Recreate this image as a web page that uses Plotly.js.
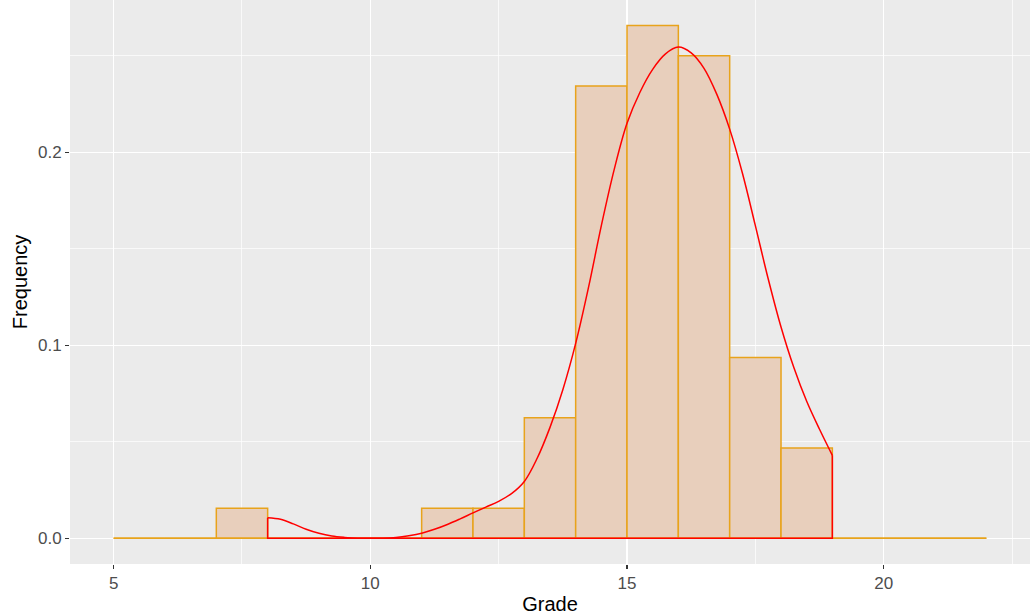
<!DOCTYPE html>
<html>
<head>
<meta charset="utf-8">
<script src="https://cdn.plot.ly/plotly-3.0.1.min.js"></script>
<style>html,body{margin:0;padding:0;background:#fff;}#chart{width:1030px;height:616px;}</style>
</head>
<body>
<div id="chart"></div>
<script>
// Histogram bins (width 1) from 5 to 22
var binStarts = [5,6,7,8,9,10,11,12,13,14,15,16,17,18,19,20,21];
var binWidth = 1;
var binFreq = [0,0,0.015625,0,0,0,0.015625,0.015625,0.0625,0.234375,0.265625,0.25,0.09375,0.046875,0,0,0];

// Density curve
var densX = [8.0,8.25,8.5,8.75,9.0,9.25,9.5,9.75,10.0,10.25,10.5,10.75,11.0,11.25,11.5,11.75,12.0,12.25,12.5,12.75,13.0,13.25,13.5,13.75,14.0,14.25,14.5,14.75,15.0,15.25,15.5,15.75,16.0,16.25,16.5,16.75,17.0,17.25,17.5,17.75,18.0,18.25,18.5,18.75,19.0];
var densY = [0.0107,0.0099,0.0075,0.0047,0.0026,0.0012,0.0005,0.0001,0.0000,0.0001,0.0005,0.0014,0.0027,0.0047,0.0072,0.0101,0.0132,0.0162,0.0192,0.0232,0.0295,0.0415,0.0575,0.0770,0.1010,0.1300,0.1620,0.1910,0.2150,0.2310,0.2430,0.2510,0.2545,0.2515,0.2435,0.2300,0.2120,0.1890,0.1620,0.1345,0.1095,0.0885,0.0710,0.0565,0.0430];

var xTicks = [5,10,15,20];
var yTicks = [0,0.1,0.2];
var yTickText = ["0.0","0.1","0.2"];

var orange = "#E8A31B";
var fill = "#E8CFBC";

var binCenters = binStarts.map(function(s){return s + binWidth/2;});
var firstEdge = binStarts[0];
var lastEdge = binStarts[binStarts.length-1] + binWidth;

var baseline = {
  x: [firstEdge, lastEdge], y: [0, 0], type: "scatter", mode: "lines",
  line: {color: orange, width: 1.5}, hoverinfo: "skip", showlegend: false
};

var bars = {
  x: binCenters, y: binFreq, type: "bar", width: binWidth,
  marker: {color: fill, line: {color: orange, width: 1.5}},
  showlegend: false
};

var n = densX.length;
var densEdges = {
  x: [densX[n-1], densX[n-1], densX[0], densX[0]],
  y: [densY[n-1], 0, 0, densY[0]],
  type: "scatter", mode: "lines",
  line: {color: "#FF0000", width: 1.5}, showlegend: false
};
var densCurve = {
  x: densX, y: densY, type: "scatter", mode: "lines",
  line: {color: "#FF0000", width: 1.5, shape: "spline", smoothing: 1}, showlegend: false
};

var tickFont = {family: "Liberation Sans, Arial, sans-serif", size: 17, color: "#4D4D4D"};
var titleFont = {family: "Liberation Sans, Arial, sans-serif", size: 20, color: "#000000"};

var layout = {
  width: 1030, height: 616,
  margin: {l: 70, r: 0, t: 0, b: 52},
  paper_bgcolor: "#FFFFFF",
  plot_bgcolor: "#EBEBEB",
  bargap: 0,
  showlegend: false,
  xaxis: {
    range: [4.15, 22.85],
    tickmode: "array", tickvals: xTicks,
    ticks: "outside", ticklen: 4, tickwidth: 1.2, tickcolor: "#333333",
    tickfont: tickFont,
    showgrid: true, gridcolor: "#FFFFFF", gridwidth: 1.4,
    minor: {dtick: 2.5, tick0: 0, showgrid: true, gridcolor: "#FFFFFF", gridwidth: 0.7, ticks: ""},
    zeroline: false, showline: false, automargin: false,
    title: {text: "Grade", font: titleFont, standoff: 4}
  },
  yaxis: {
    range: [-0.01328, 0.2789],
    tickmode: "array", tickvals: yTicks, ticktext: yTickText,
    ticks: "outside", ticklen: 4, tickwidth: 1.2, tickcolor: "#333333",
    tickfont: tickFont,
    showgrid: true, gridcolor: "#FFFFFF", gridwidth: 1.4,
    minor: {dtick: 0.05, tick0: 0, showgrid: true, gridcolor: "#FFFFFF", gridwidth: 0.7, ticks: ""},
    zeroline: false, showline: false, automargin: false,
    title: {text: "Frequency", font: titleFont, standoff: 4}
  }
};

Plotly.newPlot("chart", [baseline, bars, densEdges, densCurve], layout, {displayModeBar: false, staticPlot: true});
</script>
</body>
</html>
